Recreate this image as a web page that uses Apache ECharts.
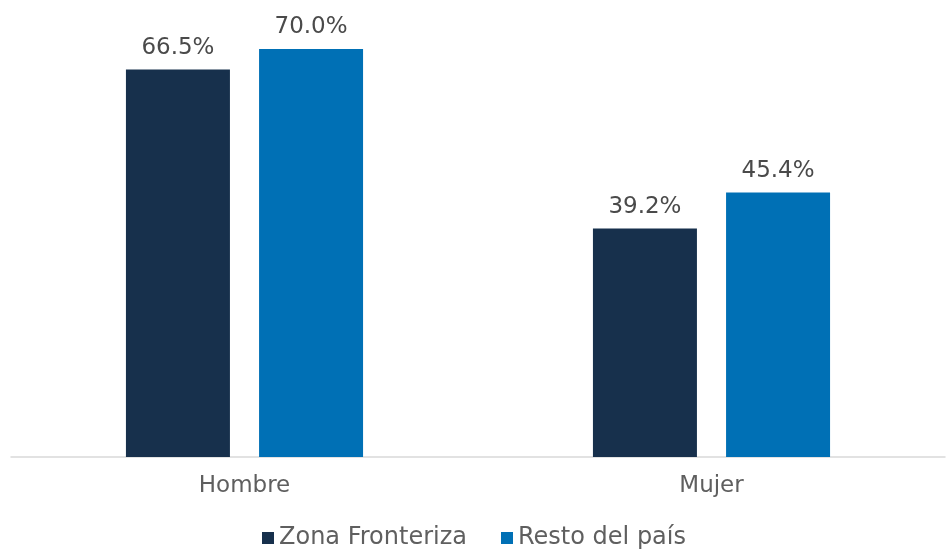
<!DOCTYPE html>
<html>
<head>
<meta charset="utf-8">
<script src="https://cdn.jsdelivr.net/npm/echarts@6/dist/echarts.min.js"></script>
<style>
  html, body { margin: 0; padding: 0; background: #fff; }
  #chart { width: 948px; height: 552px; }
</style>
</head>
<body>
<div id="chart"></div>
<script>
var categories = ['Hombre', 'Mujer'];
var zonaFronteriza = [66.5, 39.2];
var restoDelPais = [70.0, 45.4];

var myChart = echarts.init(document.getElementById('chart'));
var font = '"DejaVu Sans", "Open Sans", sans-serif';

var labelStyle = {
    show: true,
    position: 'top',
    distance: 10,
    color: '#4a4a4a',
    fontFamily: font,
    fontSize: 23,
    formatter: function (p) { return p.value.toFixed(1) + '%'; }
};

option = {
    animation: false,
    legend: {
        bottom: -3,
        left: 'center',
        itemWidth: 12,
        itemHeight: 12,
        itemGap: 34,
        icon: 'rect',
        textStyle: { color: '#5f5f5f', fontFamily: font, fontSize: 24 },
        data: ['Zona Fronteriza', 'Resto del país']
    },
    grid: {
        left: 11,
        right: 3,
        top: 49,
        bottom: 95
    },
    xAxis: {
        type: 'category',
        data: categories,
        axisTick: { show: false },
        axisLine: { lineStyle: { color: '#d9d9d9', width: 1.5 } },
        axisLabel: { color: '#5f5f5f', fontFamily: font, fontSize: 23, margin: 18 }
    },
    yAxis: {
        type: 'value',
        min: 0,
        max: 70,
        show: false,
        splitLine: { show: false }
    },
    series: [{
        name: 'Zona Fronteriza',
        type: 'bar',
        barWidth: 104,
        barGap: '28%',
        itemStyle: { color: '#17304c' },
        label: labelStyle,
        data: zonaFronteriza
    }, {
        name: 'Resto del país',
        type: 'bar',
        barWidth: 104,
        itemStyle: { color: '#0070b5' },
        label: labelStyle,
        data: restoDelPais
    }]
};
myChart.setOption(option);
</script>
</body>
</html>
